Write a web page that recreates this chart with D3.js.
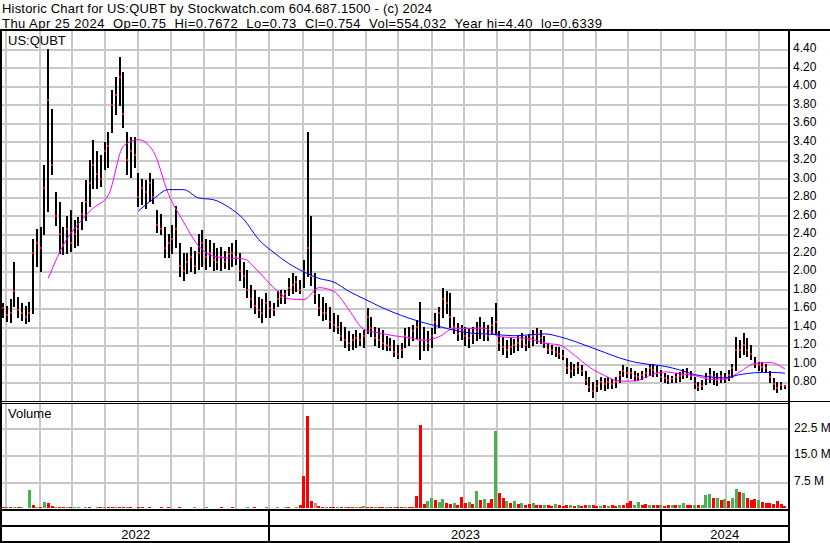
<!DOCTYPE html>
<html><head><meta charset="utf-8">
<script src="https://cdn.jsdelivr.net/npm/d3@7"></script>
<style>
body{margin:0;background:#fff}
svg{display:block}
text{font-family:"Liberation Sans",Arial,sans-serif;fill:#000}
</style>
</head><body>
<svg id="c" width="830" height="543"></svg>
<script>
// ---------- DATA ----------
const titleLine = "Historic Chart for US:QUBT by Stockwatch.com 604.687.1500 - (c) 2024";
const infoLine = "Thu Apr 25 2024  Op=0.75  Hi=0.7672  Lo=0.73  Cl=0.754  Vol=554,032  Year hi=4.40  lo=0.6339";
const symbolLabel = "US:QUBT";
const volumeLabel = "Volume";
const firstBarDate = new Date(2022, 3, 28);
const barStepDays = 3.5;

const high = [
1.65,1.62,1.70,2.10,1.72,1.65,1.62,1.66,2.35,2.45,
2.48,3.15,4.40,3.75,2.85,2.75,2.48,2.60,2.66,2.55,
2.58,2.75,2.98,3.20,3.42,3.30,3.25,3.40,3.50,3.96,
4.10,4.31,4.15,3.50,3.45,3.45,3.06,3.00,2.98,3.06,
3.00,2.66,2.62,2.48,2.40,2.50,2.70,2.30,2.19,2.20,
2.26,2.22,2.40,2.44,2.35,2.33,2.30,2.25,2.26,2.22,
2.26,2.30,2.33,2.19,2.10,2.01,1.85,1.79,1.72,1.70,
1.76,1.68,1.65,1.78,1.79,1.80,1.92,1.98,1.95,1.90,
2.12,3.50,2.60,1.98,1.75,1.72,1.65,1.61,1.55,1.52,
1.45,1.40,1.35,1.32,1.36,1.33,1.36,1.60,1.50,1.40,
1.38,1.36,1.30,1.28,1.25,1.20,1.22,1.38,1.40,1.42,
1.47,1.66,1.40,1.35,1.38,1.55,1.61,1.82,1.78,1.76,
1.50,1.44,1.42,1.40,1.38,1.40,1.45,1.50,1.45,1.42,
1.50,1.65,1.35,1.29,1.25,1.28,1.26,1.30,1.33,1.30,
1.32,1.36,1.38,1.36,1.30,1.22,1.20,1.18,1.18,1.15,
1.06,1.02,1.00,1.02,0.98,0.92,0.85,0.80,0.82,0.85,
0.84,0.85,0.83,0.85,0.92,0.98,0.96,0.95,0.92,0.90,
0.92,0.95,1.00,0.99,0.97,0.93,0.90,0.88,0.87,0.90,
0.91,0.94,0.95,0.92,0.85,0.80,0.82,0.90,0.95,0.92,
0.90,0.92,0.90,0.93,1.00,1.29,1.25,1.33,1.28,1.20,
1.07,1.02,1.02,1.00,0.92,0.84,0.80,0.80,0.7672];

const low = [
1.50,1.46,1.45,1.62,1.50,1.47,1.44,1.46,1.55,2.05,
2.00,2.40,2.65,3.05,2.50,2.20,2.18,2.20,2.22,2.26,
2.28,2.45,2.55,2.70,2.90,2.90,2.92,3.10,3.12,3.50,
3.70,3.80,3.56,3.05,3.02,3.12,2.70,2.72,2.68,2.76,
2.74,2.42,2.40,2.15,2.15,2.20,2.26,1.95,1.90,1.98,
2.00,1.98,2.02,2.05,2.02,2.05,2.01,2.02,2.01,2.03,
2.02,2.05,2.08,1.90,1.83,1.72,1.61,1.55,1.50,1.45,
1.50,1.50,1.52,1.62,1.65,1.65,1.74,1.76,1.78,1.76,
1.83,1.95,1.85,1.65,1.52,1.47,1.48,1.38,1.35,1.33,
1.25,1.18,1.15,1.16,1.18,1.20,1.18,1.33,1.30,1.20,
1.18,1.16,1.15,1.15,1.08,1.06,1.07,1.18,1.20,1.25,
1.28,1.05,1.15,1.15,1.18,1.33,1.40,1.50,1.55,1.40,
1.33,1.25,1.26,1.20,1.18,1.22,1.25,1.28,1.25,1.25,
1.33,1.33,1.15,1.10,1.07,1.10,1.12,1.15,1.18,1.15,
1.18,1.20,1.22,1.22,1.18,1.11,1.10,1.08,1.06,1.05,
0.90,0.85,0.88,0.90,0.88,0.78,0.70,0.6339,0.70,0.72,
0.71,0.74,0.73,0.75,0.80,0.86,0.85,0.84,0.82,0.82,
0.83,0.85,0.88,0.87,0.86,0.81,0.80,0.79,0.80,0.80,
0.81,0.84,0.85,0.83,0.74,0.71,0.72,0.78,0.80,0.78,
0.77,0.80,0.80,0.82,0.85,0.93,1.07,1.10,1.08,1.05,
0.96,0.93,0.92,0.91,0.80,0.72,0.69,0.72,0.73];

const close = [
1.60,1.52,1.55,1.78,1.58,1.55,1.50,1.55,2.20,2.30,
2.25,2.90,3.85,3.15,2.60,2.40,2.28,2.45,2.30,2.40,
2.45,2.62,2.75,2.95,3.15,3.05,3.00,3.30,3.35,3.80,
3.90,4.10,3.70,3.20,3.30,3.25,2.80,2.90,2.85,2.95,
2.80,2.50,2.45,2.25,2.30,2.35,2.45,2.05,2.00,2.10,
2.15,2.05,2.20,2.30,2.15,2.20,2.12,2.10,2.15,2.10,
2.18,2.20,2.15,2.00,1.95,1.80,1.70,1.62,1.58,1.55,
1.65,1.60,1.58,1.70,1.72,1.75,1.82,1.85,1.88,1.80,
2.00,2.25,1.95,1.75,1.60,1.55,1.55,1.45,1.42,1.40,
1.30,1.25,1.22,1.25,1.28,1.25,1.30,1.50,1.38,1.28,
1.25,1.22,1.20,1.18,1.12,1.10,1.15,1.30,1.28,1.35,
1.40,1.25,1.25,1.22,1.30,1.45,1.55,1.70,1.65,1.50,
1.40,1.32,1.35,1.30,1.28,1.32,1.35,1.38,1.32,1.30,
1.42,1.45,1.22,1.18,1.15,1.18,1.20,1.22,1.25,1.20,
1.25,1.30,1.32,1.28,1.22,1.15,1.15,1.12,1.10,1.08,
0.95,0.92,0.95,0.96,0.92,0.82,0.75,0.70,0.76,0.80,
0.78,0.80,0.78,0.80,0.88,0.92,0.90,0.90,0.86,0.85,
0.88,0.90,0.95,0.93,0.90,0.85,0.84,0.82,0.83,0.85,
0.86,0.88,0.90,0.86,0.78,0.75,0.76,0.84,0.88,0.85,
0.82,0.86,0.84,0.88,0.95,1.15,1.15,1.20,1.15,1.10,
1.00,0.98,0.96,0.95,0.85,0.78,0.74,0.77,0.754];

const volumeM = [
0.3,0.4,0.3,0.5,0.3,0.3,0.2,5.2,0.8,0.4,
0.3,1.7,1.4,0.6,0.4,0.5,0.3,0.4,0.3,0.3,
0.3,0.2,0.3,0.3,0.2,0.3,0.4,0.3,0.3,0.4,
0.5,0.4,0.3,0.3,0.3,0.2,0.3,0.3,0.2,0.3,
0.2,0.2,0.3,0.2,0.3,0.2,0.2,0.3,0.2,0.2,
0.2,0.3,0.2,0.2,0.3,0.2,0.2,0.2,0.3,0.2,
0.2,0.3,0.2,0.2,0.2,0.3,0.2,0.3,0.2,0.2,
0.3,0.2,0.2,0.3,0.2,0.3,0.3,0.2,0.3,0.8,
9.0,26.0,2.0,1.5,0.6,0.5,0.4,0.3,0.4,0.3,
0.3,0.4,0.3,0.3,0.3,0.4,0.6,0.5,0.3,0.3,
0.3,0.3,0.4,0.3,0.3,0.3,0.3,0.4,0.3,0.4,
3.5,23.4,1.3,2.1,2.8,2.3,1.8,2.5,1.6,1.2,
1.5,1.0,3.3,1.5,1.8,1.2,4.9,2.2,2.5,1.6,
2.6,21.7,4.4,3.0,2.0,1.5,2.0,1.2,1.5,1.0,
1.2,1.4,1.0,0.9,0.8,0.9,0.7,1.1,0.8,0.7,
1.0,0.8,0.7,0.9,0.6,1.0,0.9,0.8,0.6,0.7,
0.8,0.6,0.9,0.7,1.0,0.9,1.4,2.0,0.9,1.8,
0.9,1.2,0.8,1.0,0.8,0.9,0.7,0.8,0.9,0.8,
0.9,1.5,0.9,0.8,0.9,1.0,1.0,3.8,4.1,2.8,
3.0,2.4,2.6,2.0,3.0,5.5,4.7,4.4,2.9,2.4,
2.6,2.2,1.8,1.5,1.6,1.2,2.0,1.3,0.6];

// 1 = up (green), -1 = down (red), 0 = unchanged (grey)
const volumeDir = [
-1,1,-1,1,-1,1,-1,1,-1,1,
-1,1,-1,-1,1,-1,-1,1,-1,1,
1,-1,1,-1,-1,1,-1,1,-1,-1,
1,-1,-1,1,-1,1,-1,-1,1,-1,
1,-1,-1,1,-1,-1,1,-1,1,-1,
-1,1,-1,-1,1,-1,1,-1,-1,1,
-1,-1,1,-1,-1,1,-1,-1,1,-1,
1,-1,-1,1,-1,1,-1,-1,1,-1,
-1,-1,-1,0,-1,-1,1,-1,-1,1,
-1,1,-1,-1,1,-1,1,-1,-1,1,
-1,-1,1,-1,1,-1,-1,1,-1,-1,
-1,-1,-1,1,1,-1,1,1,-1,-1,
1,-1,-1,-1,1,-1,1,-1,1,-1,
-1,1,-1,-1,1,-1,1,-1,1,-1,
-1,1,-1,-1,1,-1,-1,1,-1,-1,
-1,1,-1,1,-1,-1,1,-1,-1,1,
-1,1,-1,-1,1,-1,-1,-1,1,1,
-1,-1,1,-1,-1,1,-1,-1,1,-1,
1,1,-1,-1,1,-1,1,1,1,-1,
1,-1,1,-1,1,1,-1,1,-1,-1,
-1,1,-1,-1,-1,-1,-1,-1,-1];

// moving averages, sampled every 4 bars
const maShortStart = 12, maShortStep = 4;
const maShort = [1.92,2.28,2.51,2.68,2.82,3.35,3.42,3.29,2.83,2.53,
2.27,2.16,2.14,2.13,1.99,1.82,1.70,1.69,1.82,1.78,
1.58,1.37,1.33,1.30,1.28,1.25,1.29,1.38,1.38,1.38,
1.29,1.28,1.27,1.22,1.20,1.09,0.96,0.87,0.81,0.81,
0.87,0.91,0.89,0.87,0.83,0.83,0.91,1.00,1.01,0.94];
const maLongStart = 36, maLongStep = 4;
const maLong = [2.65,2.78,2.88,2.88,2.79,2.77,2.69,2.56,2.34,2.20,
2.08,1.99,1.92,1.88,1.78,1.70,1.62,1.55,1.49,1.44,
1.40,1.36,1.33,1.32,1.31,1.30,1.31,1.32,1.29,1.24,
1.18,1.12,1.06,1.015,0.99,0.97,0.93,0.88,0.855,0.845,
0.88,0.90,0.905,0.895];

const priceTicks = [0.8,1.0,1.2,1.4,1.6,1.8,2.0,2.2,2.4,2.6,2.8,3.0,3.2,3.4,3.6,3.8,4.0,4.2,4.4];
const volumeTicks = [7.5,15.0,22.5];
const years = [2022, 2023, 2024];

// ---------- LAYOUT ----------
const W = 830, H = 543;
const L = 2, R = 788;
const priceTop = 30.5, priceBot = 400.5;
const volTop = 403, volBot = 508.3;

const svg = d3.select("#c");
svg.append("rect").attr("width", W).attr("height", H).attr("fill", "#fff");

const dayMs = 864e5;
const barDate = i => new Date(firstBarDate.getTime() + i * barStepDays * dayMs);
const bars = high.map((h, i) => ({d: barDate(i), h, l: low[i], c: close[i], v: volumeM[i], dir: volumeDir[i]}));

const x = d3.scaleTime().domain([new Date(2022, 3, 26), new Date(2024, 3, 26)]).range([1, 786]);
const y = d3.scaleLinear().domain([0.6, 4.6]).range([priceBot, priceTop]);
const yv = d3.scaleLinear().domain([0, 29.6]).range([volBot, volTop]);

const months = d3.timeMonth.range(new Date(2022, 4, 1), new Date(2024, 4, 1));
const gridCol = "#c8c8c8";

// grid - price
const g = svg.append("g").attr("shape-rendering", "crispEdges");
g.selectAll(".vgp").data(months).join("line")
  .attr("x1", d => Math.round(x(d))).attr("x2", d => Math.round(x(d)))
  .attr("y1", 31).attr("y2", 401).attr("stroke", gridCol).attr("stroke-width", 2);
g.selectAll(".hgp").data(priceTicks).join("line")
  .attr("x1", L).attr("x2", R).attr("y1", d => Math.round(y(d)) + 1).attr("y2", d => Math.round(y(d)) + 1)
  .attr("stroke", gridCol).attr("stroke-width", 2);
// grid - volume
g.selectAll(".vgv").data(months).join("line")
  .attr("x1", d => Math.round(x(d))).attr("x2", d => Math.round(x(d)))
  .attr("y1", 404).attr("y2", 509).attr("stroke", gridCol).attr("stroke-width", 2);
g.selectAll(".hgv").data(volumeTicks).join("line")
  .attr("x1", L).attr("x2", R).attr("y1", d => Math.round(yv(d)) + 1).attr("y2", d => Math.round(yv(d)) + 1)
  .attr("stroke", gridCol).attr("stroke-width", 2);

// price bars
const pb = svg.append("g").attr("shape-rendering", "crispEdges");
pb.selectAll("line").data(bars).join("line")
  .attr("x1", d => x(d.d)).attr("x2", d => x(d.d))
  .attr("y1", d => y(d.h)).attr("y2", d => y(d.l) + 1)
  .attr("stroke", "#000").attr("stroke-width", 2);
pb.selectAll("rect").data(bars).join("rect")
  .attr("x", d => x(d.d) - 1).attr("y", d => y(d.c) - 1)
  .attr("width", 2).attr("height", 2).attr("fill", "#ff0000");

// moving averages
const lineGen = d3.line().x(d => x(d.d)).y(d => y(d.v)).curve(d3.curveMonotoneX);
const maS = maShort.map((v, k) => ({d: barDate(maShortStart + k * maShortStep), v}));
const maL = maLong.map((v, k) => ({d: barDate(maLongStart + k * maLongStep), v}));
svg.append("path").attr("d", lineGen(maS)).attr("fill", "none").attr("stroke", "#ff00ff").attr("stroke-width", 1);
svg.append("path").attr("d", lineGen(maL)).attr("fill", "none").attr("stroke", "#0000ff").attr("stroke-width", 1);

// volume bars
const volCol = d => d.dir > 0 ? "#4caf50" : (d.dir < 0 ? "#ff0000" : "#a0a0a0");
svg.append("g").attr("shape-rendering", "crispEdges")
  .selectAll("rect").data(bars).join("rect")
  .attr("x", d => x(d.d) - 1.5).attr("width", 3)
  .attr("y", d => yv(d.v)).attr("height", d => volBot - yv(d.v))
  .attr("fill", volCol);

// borders
const b = svg.append("g").attr("stroke", "#000").attr("shape-rendering", "crispEdges");
b.append("line").attr("x1", 0).attr("x2", W).attr("y1", 30).attr("y2", 30).attr("stroke-width", 2);
b.append("line").attr("x1", 1).attr("x2", 1).attr("y1", 29).attr("y2", 543).attr("stroke-width", 2);
b.append("line").attr("x1", R + 1).attr("x2", R + 1).attr("y1", 29).attr("y2", 543).attr("stroke-width", 2);
b.append("line").attr("x1", 0).attr("x2", W).attr("y1", 401.5).attr("y2", 401.5).attr("stroke-width", 1);
b.append("line").attr("x1", 0).attr("x2", R).attr("y1", 403.5).attr("y2", 403.5).attr("stroke-width", 1);
b.append("line").attr("x1", 0).attr("x2", R + 1).attr("y1", 509.5).attr("y2", 509.5).attr("stroke-width", 2);
b.append("line").attr("x1", 0).attr("x2", R + 1).attr("y1", 526).attr("y2", 526).attr("stroke-width", 2);
b.append("line").attr("x1", 0).attr("x2", R + 1).attr("y1", 541.5).attr("y2", 541.5).attr("stroke-width", 2);
const yearStarts = years.slice(1).map(yr => new Date(yr, 0, 1));
b.selectAll(".yd").data(yearStarts).join("line")
  .attr("x1", d => Math.round(x(d))).attr("x2", d => Math.round(x(d)))
  .attr("y1", 509).attr("y2", 542).attr("stroke-width", 2);

// year labels
const yearBands = years.map(yr => {
  const a = Math.max(L, x(new Date(yr, 0, 1)));
  const e = Math.min(R, x(new Date(yr + 1, 0, 1)));
  return {yr, cx: (a + e) / 2};
});
svg.selectAll(".yl").data(yearBands).join("text")
  .attr("x", d => d.cx).attr("y", 538.5).attr("text-anchor", "middle")
  .style("font-size", "13px").text(d => d.yr);

// axes
const ay = d3.axisRight(y).tickValues(priceTicks).tickSize(0).tickPadding(0).tickFormat(d3.format(".2f"));
const axP = svg.append("g").attr("transform", `translate(${R + 5},-1)`).call(ay);
axP.select(".domain").remove();
axP.selectAll("text").style("font-size", "12px").attr("fill", "#000").style("font-family", '"Liberation Sans",Arial,sans-serif');
const av = d3.axisRight(yv).tickValues(volumeTicks).tickSize(0).tickPadding(0).tickFormat(d => d3.format(".1f")(d) + " M");
const axV = svg.append("g").attr("transform", `translate(${R + 6},-1)`).call(av);
axV.select(".domain").remove();
axV.selectAll("text").style("font-size", "12px").attr("fill", "#000").style("font-family", '"Liberation Sans",Arial,sans-serif');

// texts
svg.append("text").attr("x", 2).attr("y", 13).style("font-size", "13px").style("white-space", "pre")
  .attr("textLength", 430).attr("lengthAdjust", "spacing").text(titleLine);
svg.append("text").attr("x", 2).attr("y", 28).style("font-size", "13px").style("white-space", "pre")
  .attr("textLength", 600).attr("lengthAdjust", "spacing").text(infoLine);
svg.append("text").attr("x", 8).attr("y", 45).style("font-size", "13px").text(symbolLabel);
svg.append("text").attr("x", 8).attr("y", 418).style("font-size", "13px").text(volumeLabel);
</script>
</body></html>
